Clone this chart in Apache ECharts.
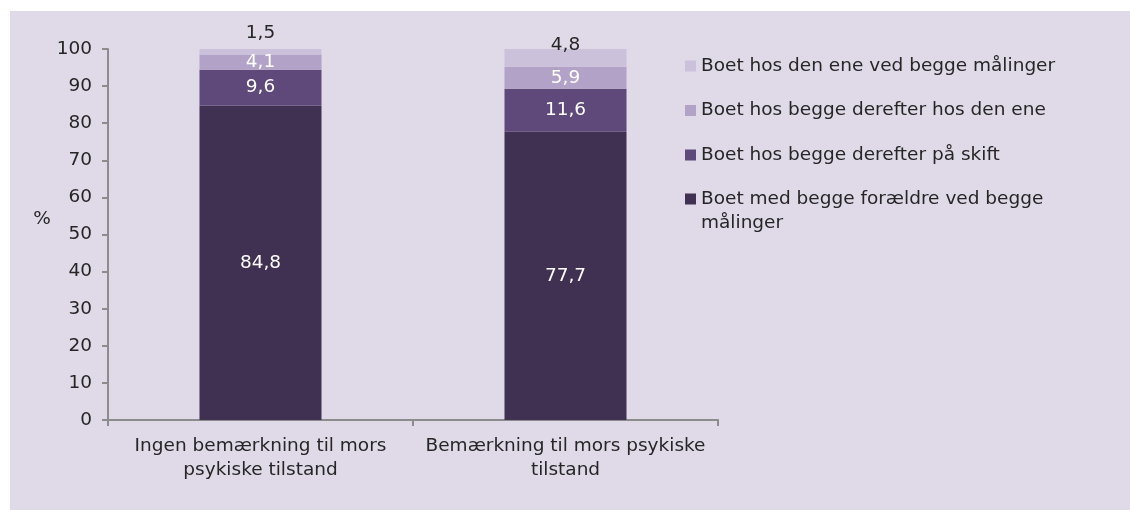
<!DOCTYPE html>
<html>
<head>
<meta charset="utf-8">
<script src="https://cdn.jsdelivr.net/npm/echarts@6/dist/echarts.min.js"></script>
<style>
  html, body { margin: 0; padding: 0; background: #ffffff; }
  #wrap { position: relative; width: 1130px; height: 510px; }
  #panel { position: absolute; left: 10px; top: 11px; width: 1120px; height: 499px; background: #dfd9e8; }
  #chart { position: absolute; left: 0; top: 0; width: 1130px; height: 510px; }
</style>
</head>
<body>
<div id="wrap"><div id="panel"></div><div id="chart"></div></div>
<script>
// Categories (x axis)
const categories = [
  'Ingen bemærkning til mors\npsykiske tilstand',
  'Bemærkning til mors psykiske\ntilstand'
];

// Series names, bottom of stack first
const nameBothParents = 'Boet med begge forældre ved begge målinger';
const nameAlternating = 'Boet hos begge derefter på skift';
const nameThenOne = 'Boet hos begge derefter hos den ene';
const nameOneBoth = 'Boet hos den ene ved begge målinger';

// Percentages per category
const bothParents = [84.8, 77.7];
const alternating = [9.6, 11.6];
const thenOne = [4.1, 5.9];
const oneBoth = [1.5, 4.8];

// Y axis scale
const yMin = 0;
const yMax = 100;
const yStep = 10;

const FONT = 'DejaVu Sans';
const FS = 18.5;
const TEXT = '#262626';

const fmt = p => String(p.value).replace('.', ',');

const insideLabel = {
  show: true,
  position: 'inside',
  color: '#ffffff',
  fontFamily: FONT,
  fontSize: FS,
  formatter: fmt
};

// top segment labels sit above the stack
const topLabelStyles = [
  { position: 'top', distance: 6, offset: [0, 0] },
  { position: 'top', distance: 6, offset: [0, 12] }
];

const chart = echarts.init(document.getElementById('chart'), null, { renderer: 'canvas' });

chart.setOption({
  animation: false,
  textStyle: { fontFamily: FONT },
  grid: { left: 108, right: 412, top: 49, bottom: 90, containLabel: false },
  legend: [
    {
      orient: 'vertical',
      left: 685,
      top: 54,
      padding: 0,
      itemWidth: 11,
      itemHeight: 11,
      itemGap: 20.5,
      icon: 'rect',
      selectedMode: false,
      textStyle: { fontFamily: FONT, fontSize: FS, color: TEXT, lineHeight: 24 },
      data: [nameOneBoth, nameThenOne, nameAlternating]
    },
    {
      // wrapped entry: a leading blank line keeps the swatch beside the first text line
      orient: 'vertical',
      left: 685,
      top: 163,
      padding: 0,
      itemWidth: 11,
      itemHeight: 11,
      icon: 'rect',
      selectedMode: false,
      formatter: () => ' \nBoet med begge forældre ved begge\nmålinger',
      textStyle: { fontFamily: FONT, fontSize: FS, color: TEXT, lineHeight: 24 },
      data: [nameBothParents]
    }
  ],
  xAxis: {
    type: 'category',
    data: categories,
    axisLine: { show: true, lineStyle: { color: '#8c8c8c', width: 2 } },
    axisTick: { show: true, alignWithLabel: false, length: 6, lineStyle: { color: '#8c8c8c', width: 2 } },
    axisLabel: { interval: 0, margin: 14, color: TEXT, fontFamily: FONT, fontSize: FS, lineHeight: 24 }
  },
  yAxis: {
    type: 'value',
    min: yMin,
    max: yMax,
    interval: yStep,
    name: '%',
    nameLocation: 'middle',
    nameRotate: 0,
    nameGap: 51,
    nameTextStyle: { color: TEXT, fontFamily: FONT, fontSize: FS, verticalAlign: 'bottom', lineHeight: 30 },
    axisLine: { show: true, lineStyle: { color: '#8c8c8c', width: 2 } },
    axisTick: { show: true, length: 6, lineStyle: { color: '#8c8c8c', width: 2 } },
    axisLabel: { margin: 16, color: TEXT, fontFamily: FONT, fontSize: FS },
    splitLine: { show: false }
  },
  series: [
    {
      name: nameBothParents, type: 'bar', stack: 'total', barWidth: 122,
      itemStyle: { color: '#403152' },
      label: insideLabel,
      data: bothParents
    },
    {
      name: nameAlternating, type: 'bar', stack: 'total', barWidth: 122,
      itemStyle: { color: '#5f497a' },
      label: insideLabel,
      data: alternating
    },
    {
      name: nameThenOne, type: 'bar', stack: 'total', barWidth: 122,
      itemStyle: { color: '#b2a2c7' },
      label: insideLabel,
      data: thenOne
    },
    {
      name: nameOneBoth, type: 'bar', stack: 'total', barWidth: 122,
      itemStyle: { color: '#ccc1da' },
      label: { show: true, color: TEXT, fontFamily: FONT, fontSize: FS, formatter: fmt },
      data: oneBoth.map((v, i) => ({ value: v, label: topLabelStyles[i] }))
    }
  ]
});
</script>
</body>
</html>
